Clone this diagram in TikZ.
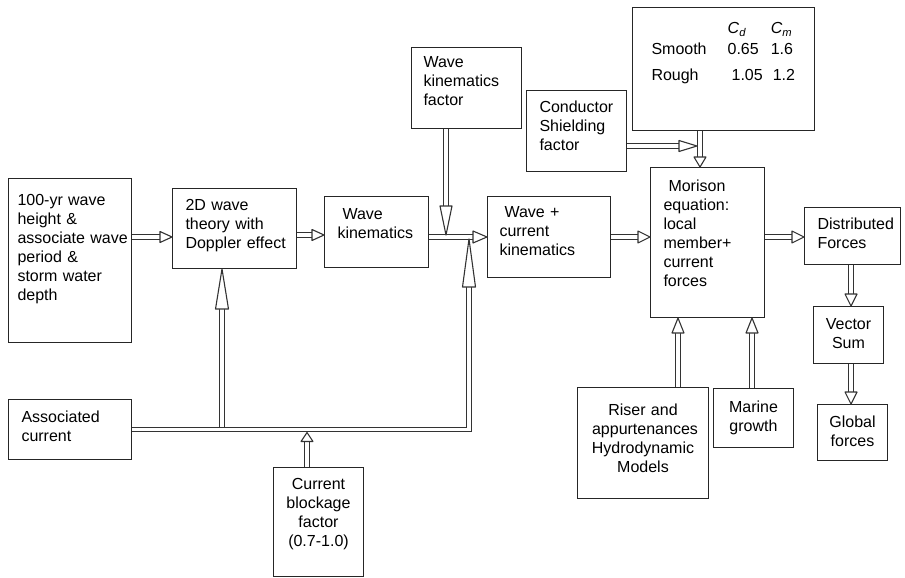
\documentclass[tikz,border=0pt]{standalone}
\usepackage{fontspec}
\setmainfont{Liberation Sans}
\usetikzlibrary{calc}
\hyphenpenalty=10000

% hollow arrow head: tip, point it comes from, length, half width
\newcommand{\arrhead}[4]{%
  \path ($(#1)!#3!(#2)$) coordinate (hb);
  \filldraw[head] ($(hb)!#4!90:(#1)$) -- (#1) -- ($(hb)!#4!-90:(#1)$) -- cycle;}
% double shaft plus hollow head
\newcommand{\hollowarr}[4]{%
  \draw[shaft] (#1) -- ($(#2)!#3!(#1)$);
  \arrhead{#2}{#1}{#3}{#4}}

\begin{document}
\begin{tikzpicture}[x=1pt, y=-1pt, font=\fontsize{16}{19}\selectfont,
  box/.style={draw=black!85, line width=1pt, anchor=north west, inner ysep=0pt, align=left},
  cbox/.style={box, inner xsep=0pt, align=center},
  shaft/.style={draw=black!80, line width=1.1pt, double=white, double distance=3.4pt},
  head/.style={draw=black!80, fill=white, line width=1.1pt, line join=round}]
\useasboundingbox (0,0) rectangle (905,578);

% input side
\node[box, inner xsep=9pt, text width=105pt, text height=26.5pt, text depth=137.5pt] (hundred) at (8,178)
  {100-yr wave\\height \&\\\mbox{associate wave}\\period \&\\storm water\\depth};
\node[box, inner xsep=13pt, text width=98pt, text height=21.5pt, text depth=58.5pt] (twod) at (172,188)
  {2D wave\\theory with\\\mbox{Doppler effect}};
\node[box, inner xsep=13pt, text width=78pt, text height=22.5pt, text depth=48.5pt] (wavekin) at (324,196)
  {\hspace*{5pt}Wave\\kinematics};
\node[box, inner xsep=12pt, text width=86pt, text height=20pt, text depth=61pt] (wkfactor) at (411,47)
  {Wave\\kinematics\\factor};
\node[box, inner xsep=12pt, text width=99pt, text height=20.5pt, text depth=60.5pt] (wavecur) at (487,196)
  {\hspace*{5pt}Wave +\\current\\kinematics};
\node[box, inner xsep=13pt, text width=97pt, text height=22.5pt, text depth=37.5pt] (assoc) at (8,399)
  {Associated\\current};
\node[cbox, text width=90pt, text height=21.5pt, text depth=87.5pt] (blockage) at (273,467)
  {Current\\blockage\\factor\\(0.7-1.0)};

% coefficients and Morison
\node[box, inner xsep=13pt, text width=74pt, text height=22pt, text depth=59pt] (conductor) at (526,90)
  {Conductor\\Shielding\\factor};
\node[box, inner xsep=19pt, text width=144pt, text height=26pt, text depth=97pt] (coeffs) at (632,7)
  {\begin{tabular}[t]{@{}l@{\hspace{21pt}}l@{\hspace{8pt}}l@{}}
    & \textit{C}\textsubscript{\textit{d}} & \textit{C}\textsubscript{\textit{m}}\\[2pt]
    Smooth & 0.65 & 1.6\\[7pt]
    Rough & \hspace{4pt}1.05 & \hspace{2pt}1.2
  \end{tabular}};
\node[box, inner xsep=13pt, text width=88pt, text height=23.5pt, text depth=126.5pt] (morison) at (650,167)
  {\hspace*{5pt}Morison\\equation:\\local\\member+\\current\\forces};
\node[cbox, text width=131pt, text height=27.5pt, text depth=83.5pt] (riser) at (577,387)
  {Riser and\\\hspace*{4pt}appurtenances\\Hydrodynamic\\Models};
\node[cbox, text width=80pt, text height=23.5pt, text depth=35.5pt] (marine) at (713,388)
  {Marine\\growth};

% output side
\node[box, inner xsep=13pt, text width=70pt, text height=21.5pt, text depth=35.5pt] (distrib) at (804,207)
  {Distributed\\Forces};
\node[cbox, text width=70pt, text height=22.5pt, text depth=34.5pt] (vecsum) at (813,306)
  {Vector\\Sum};
\node[cbox, text width=70pt, text height=23pt, text depth=33pt] (globalf) at (817,404)
  {Global\\forces};

% arrow lines
\coordinate (flow) at (0,237);
\coordinate (flowb) at (0,235);
\coordinate (cur) at (0,429.5);
\coordinate (wktip) at (446,235);
\coordinate (shield) at (697,146);
\coordinate (colc) at (700,0);
\coordinate (colr) at (851,0);
\coordinate (colrs) at (678,0);
\coordinate (colm) at (752,0);
\coordinate (coldop) at (222,0);
\coordinate (colb) at (307,0);
\coordinate (risetip) at (469,239);
\coordinate (dopfoot) at ($(coldop |- cur)+(0,-3)$);
\coordinate (blocktip) at ($(colb |- cur)+(0,3)$);

\hollowarr{hundred.east |- flow}{twod.west |- flow}{12pt}{5.5pt}
\hollowarr{twod.east |- flowb}{wavekin.west |- flowb}{12pt}{5.5pt}
\hollowarr{wavekin.east |- flow}{wavecur.west |- flow}{14pt}{6pt}
\hollowarr{wkfactor.south -| wktip}{wktip}{29pt}{6pt}

% current path
\draw[shaft] (assoc.east |- cur) -| ($(risetip)+(0,48)$);
\arrhead{risetip}{risetip |- cur}{48pt}{6.5pt}
\hollowarr{dopfoot}{twod.south -| coldop}{40pt}{6.5pt}
\hollowarr{blockage.north -| colb}{blocktip}{9pt}{6pt}

\hollowarr{wavecur.east |- flow}{morison.west |- flow}{12pt}{6pt}
\hollowarr{conductor.east |- shield}{shield}{18pt}{5.5pt}
\hollowarr{coeffs.south -| colc}{morison.north -| colc}{10pt}{6pt}
\hollowarr{riser.north -| colrs}{morison.south -| colrs}{15pt}{6pt}
\hollowarr{marine.north -| colm}{morison.south -| colm}{15pt}{6pt}
\hollowarr{morison.east |- flow}{distrib.west |- flow}{12pt}{6pt}
\hollowarr{distrib.south -| colr}{vecsum.north -| colr}{12pt}{6pt}
\hollowarr{vecsum.south -| colr}{globalf.north -| colr}{12pt}{6pt}
\end{tikzpicture}
\end{document}
